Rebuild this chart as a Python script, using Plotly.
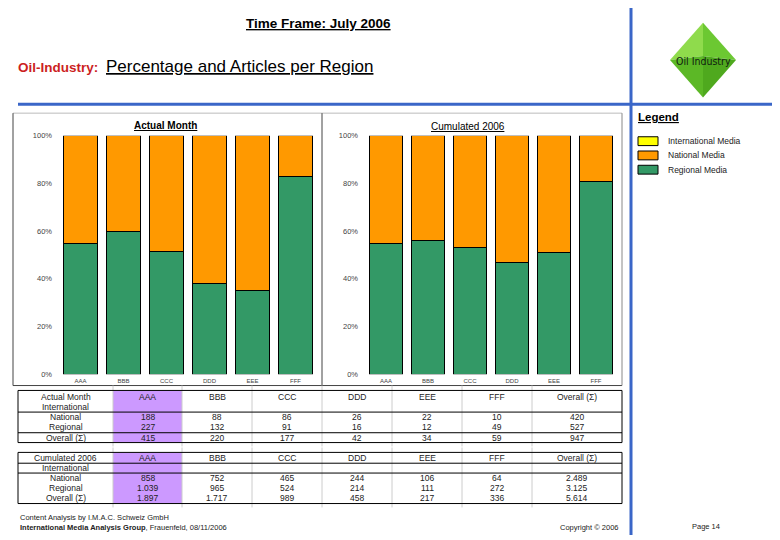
import plotly.graph_objects as go

# ---------------- data ----------------
regions = ["AAA", "BBB", "CCC", "DDD", "EEE", "FFF"]
month_international = [None, None, None, None, None, None]
month_national = [188, 88, 86, 26, 22, 10]
month_regional = [227, 132, 91, 16, 12, 49]
cum_international = [None, None, None, None, None, None]
cum_national = [858, 752, 465, 244, 106, 64]
cum_regional = [1039, 965, 524, 214, 111, 272]
pct_ticks = [0, 20, 40, 60, 80, 100]
pct_labels = ["0%", "20%", "40%", "60%", "80%", "100%"]
row_labels = ["International", "National", "Regional", "Overall (Σ)"]
legend_labels = ["International Media", "National Media", "Regional Media"]

# ---------------- style ----------------
W, H = 780, 540
FONT = "Liberation Sans"
C_INT, C_NAT, C_REG = "#ffff00", "#ff9900", "#339966"
BLUE = "#3a66c8"
PURPLE = "#cc99ff"


def px(x):
    return x / W


def py(y):
    return 1 - y / H


fig = go.Figure()

for (nat, reg, xa, ya) in [(month_national, month_regional, "x", "y"),
                           (cum_national, cum_regional, "x2", "y2")]:
    fig.add_trace(go.Bar(x=regions, y=reg, marker=dict(color=C_REG, line=dict(color="black", width=1)),
                         xaxis=xa, yaxis=ya, showlegend=False, hoverinfo="skip"))
    fig.add_trace(go.Bar(x=regions, y=nat, marker=dict(color=C_NAT, line=dict(color="black", width=1)),
                         xaxis=xa, yaxis=ya, showlegend=False, hoverinfo="skip"))

ydom = [py(376.5), py(134)]
axis_common = dict(showgrid=False, zeroline=False, showline=False, ticks="")
fig.update_layout(
    width=W, height=H, margin=dict(l=0, r=0, t=0, b=0),
    paper_bgcolor="white", plot_bgcolor="rgba(0,0,0,0)",
    barmode="stack", barnorm="percent", bargap=0.23,
    font=dict(family=FONT, color="#222"),
    xaxis=dict(domain=[px(59), px(317)], anchor="y", tickfont=dict(size=6, color="#444"),
               ticklabelstandoff=2, **axis_common),
    yaxis=dict(domain=ydom, anchor="x", range=[0, 100], tickvals=pct_ticks, ticktext=pct_labels,
               tickfont=dict(size=7.5, color="#444"), ticklabelstandoff=6, **axis_common),
    xaxis2=dict(domain=[px(365), px(617)], anchor="y2", tickfont=dict(size=6, color="#444"),
                ticklabelstandoff=2, **axis_common),
    yaxis2=dict(domain=ydom, anchor="x2", range=[0, 100], tickvals=pct_ticks, ticktext=pct_labels,
                tickfont=dict(size=7.5, color="#444"), ticklabelstandoff=6, **axis_common),
)

shapes = []
ann = []


def line(x0, y0, x1, y1, color="black", width=1):
    shapes.append(dict(type="line", xref="paper", yref="paper", x0=px(x0), y0=py(y0), x1=px(x1), y1=py(y1),
                       line=dict(color=color, width=width)))


def rect(x0, y0, x1, y1, fill, color="black", width=1):
    shapes.append(dict(type="rect", xref="paper", yref="paper", x0=px(x0), y0=py(y0), x1=px(x1), y1=py(y1),
                       fillcolor=fill, line=dict(color=color, width=width), layer="below"))


def text(x, y, s, size=8, anchor="center", color="#222", family=FONT):
    ann.append(dict(x=px(x), y=py(y), xref="paper", yref="paper", text=s, showarrow=False,
                    xanchor=anchor, yanchor="middle", font=dict(size=size, color=color, family=family)))


# header
text(318, 20, "<b><u>Time Frame: July 2006</u></b>", size=13.5, color="black")
text(16, 65, "<b>Oil-Industry:</b>", size=13.5, anchor="left", color="#cc1f1f")
text(104, 64, "<u>Percentage and Articles per Region</u>", size=17, anchor="left", color="black")
line(18, 102, 772, 102, BLUE, 3)
line(631, 4, 631, 540, BLUE, 3)

# logo (diamond)
cx, cy, hw, hh = 703, 57, 33, 38
facets = [((cx - hw, cy), (cx, cy - hh), "#8fdb4c"), ((cx, cy - hh), (cx + hw, cy), "#6cc832"),
          ((cx + hw, cy), (cx, cy + hh), "#4fa91e"), ((cx, cy + hh), (cx - hw, cy), "#5cb826")]
for (a, b, col) in facets:
    path = f"M {px(a[0])} {py(a[1])} L {px(b[0])} {py(b[1])} L {px(cx)} {py(cy - 4)} Z"
    shapes.append(dict(type="path", xref="paper", yref="paper", path=path, fillcolor=col,
                       line=dict(width=0)))
text(cx, cy + 1, "Oil Industry", size=10.5, color="#102010", family="DejaVu Sans Condensed")

# legend
text(636, 115, "<b><u>Legend</u></b>", size=11.5, anchor="left", color="black")
for i, (lab, col) in enumerate(zip(legend_labels, [C_INT, C_NAT, C_REG])):
    yy = 139.5 + i * 14.5
    rect(638, yy - 4.5, 658, yy + 4.5, col)
    text(666, yy, lab, size=8.5, anchor="left")

# chart frame
line(13, 111, 622, 111, "#bbbbbb")
line(13, 111, 13, 388, "#444")
line(13, 388, 622, 388, "#444")
line(622, 111, 622, 388, "#888")
line(322, 111, 322, 388, "#444")
text(165, 124, "<b><u>Actual Month</u></b>", size=10, color="black")
text(468, 125, "<u>Cumulated 2006</u>", size=10, color="black")

# tables
cols = [18, 113, 182, 252, 322, 392, 462, 532, 622]


def fmt(v):
    return "" if v is None else f"{v:,}".replace(",", ".")


def table(title, intl, nat, reg, top, rows_y, hlines, bottom):
    rect(113, top, 182, bottom, PURPLE, color=PURPLE, width=0)
    for xv in cols[1:-1]:
        line(xv, top - 5, xv, bottom + 4, "#cccccc")
    line(18, top, 622, top)
    line(18, bottom, 622, bottom)
    line(18, top, 18, bottom)
    line(622, top, 622, bottom)
    for hy in hlines:
        line(18, hy, 622, hy)
    heads = [title] + regions + ["Overall (Σ)"]
    totals = [sum(nat), sum(reg)]
    data_rows = [
        [fmt(v) for v in intl] + [""],
        [fmt(v) for v in nat] + [fmt(totals[0])],
        [fmt(v) for v in reg] + [fmt(totals[1])],
        [fmt(a + b) for a, b in zip(nat, reg)] + [fmt(totals[0] + totals[1])],
    ]
    centers = [(cols[i] + cols[i + 1]) / 2 for i in range(len(cols) - 1)]
    for c, h in zip(centers, heads):
        text(c, rows_y[0], h, size=8.5)
    for r, (lab, vals) in enumerate(zip(row_labels, data_rows)):
        text(centers[0], rows_y[r + 1], lab, size=8.5)
        for c, v in zip(centers[1:], vals):
            text(c, rows_y[r + 1], v, size=8.5)


table("Actual Month", month_international, month_national, month_regional,
      393, [399.5, 409.5, 420, 430, 441], [415, 436], 446)
table("Cumulated 2006", cum_international, cum_national, cum_regional,
      456, [462, 472, 482, 492, 502.5], [467, 477], 508)

# footer
text(18, 522, "Content Analysis by I.M.A.C. Schweiz GmbH", size=7.5, anchor="left")
text(18, 532, "<b>International Media Analysis Group</b>, Frauenfeld, 08/11/2006", size=7.5, anchor="left")
text(620, 532, "Copyright © 2006", size=7.5, anchor="right")
text(706, 531, "Page 14", size=7.5)

fig.update_layout(shapes=shapes, annotations=ann)
fig.write_html("out.html", config={"displayModeBar": False},
               post_script="document.body.style.margin='0';document.body.style.overflow='hidden';")
